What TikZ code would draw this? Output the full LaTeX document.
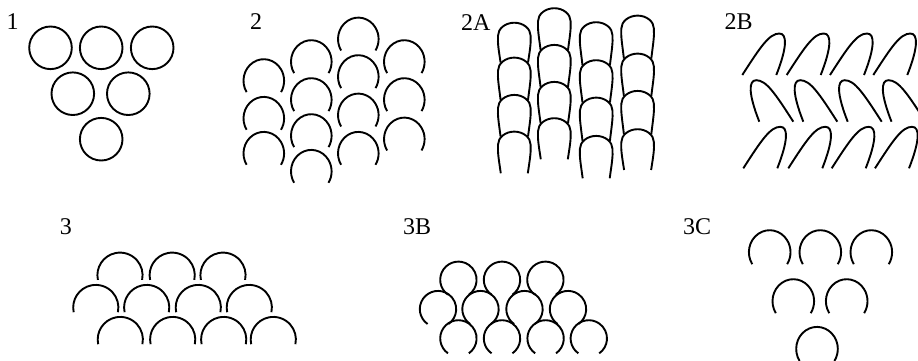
\documentclass[tikz,border=0pt]{standalone}
\usepackage{fontspec}
\setmainfont{Liberation Serif}
\newcommand{\openarc}[5]{% cx, cy, rx, ry, half-gap (deg from bottom)
  \draw[ink] ({#1+#3*cos(90+#5)},{#2+#4*sin(90+#5)}) arc[start angle={90+#5}, end angle={450-#5}, x radius=#3, y radius=#4];}
\newcommand{\hoop}[4]{% cx, top, bottom, bottom half-width
  \draw[ink] ({#1-#4},#3) .. controls ({#1-15.5},{#2+28}) and ({#1-16.8},{#2+21}) .. ({#1-16.3},{#2+13})
     .. controls ({#1-16.3},{#2+6}) and ({#1-9},#2) .. (#1,#2)
     .. controls ({#1+9},#2) and ({#1+16.3},{#2+6}) .. ({#1+16.3},{#2+13})
     .. controls ({#1+16.8},{#2+21}) and ({#1+15.5},{#2+28}) .. ({#1+#4},#3);}
\tikzset{
  ink/.style={line width=1.9pt, draw=black, line cap=butt},
  lbl/.style={anchor=base west, inner sep=0pt, font=\fontsize{24}{28}\selectfont},
  leanA/.pic={\draw[ink] (0,0) .. controls (18,-28) and (27,-41.5) .. (37,-41.5) .. controls (45,-41.5) and (45,-28) .. (34,0);}
}
\begin{document}
\begin{tikzpicture}[x=1pt,y=-1pt]
\useasboundingbox (0,0) rectangle (918,360);
\clip (0,0) rectangle (918,360);
% labels
\node[lbl] (l1) at (6.5,29) {1};
\node[lbl] (l2) at (250,29) {2};
\node[lbl] (l2A) at (461,30.5) {2A};
\node[lbl] (l2B) at (724.3,29.8) {2B};
\node[lbl] (l3) at (59.7,234.5) {3};
\node[lbl] (l3B) at (403,234.5) {3B};
\node[lbl] (l3C) at (683,234.5) {3C};
% panel 1
\foreach \x/\y in {50.5/47.8, 101.2/47.8, 152.2/47.8, 72.8/93.7, 128.3/93.7, 101.2/139.2}
  \draw[ink] (\x,\y) circle[radius=21.3];
% panel 2
\foreach \x/\y in {263.8/80.7, 263.8/118.4, 263.8/153.4,
                   311.3/61.7, 311.3/99.7, 311.3/135.7, 311.3/171.4,
                   358.3/39.1, 358.3/76.7, 358.3/115.1, 358.3/153.4,
                   404.3/61.7, 404.3/99.7, 404.3/139.1}
  {\openarc{\x}{\y}{20.3}{21.5}{58}}
% panel 2A
\hoop{514.3}{22.7}{62.6}{13.7}
\hoop{514.3}{57.6}{99.9}{13.7}
\hoop{514.3}{94.9}{136.6}{13.7}
\hoop{514.3}{131.6}{173.3}{13.5}
\hoop{554.3}{8.2}{49.9}{13.7}
\hoop{554.3}{44.9}{86.9}{13.7}
\hoop{554.3}{81.9}{123.2}{13.7}
\hoop{554.3}{118.2}{159.3}{13.5}
\hoop{596.2}{22.2}{65.2}{13.7}
\hoop{596.2}{60.2}{102.6}{13.7}
\hoop{596.2}{97.6}{140.9}{13.7}
\hoop{596.2}{135.9}{178.3}{13.5}
\hoop{637.6}{15.6}{58.6}{13.7}
\hoop{637.6}{53.6}{95.9}{13.7}
\hoop{637.6}{90.9}{134.2}{13.7}
\hoop{637.6}{129.2}{170}{13.5}
% panel 2B
\foreach \x in {742.3, 786.7, 830, 873.3} \pic at (\x,75) {leanA};
\foreach \x in {793.3, 837.3, 881.7, 925.5} \pic[xscale=-1] at (\x,121.7) {leanA};
\foreach \x in {743.3, 788.3, 831.7, 875} \pic at (\x,168.3) {leanA};
% panel 3
\foreach \x/\y in {120/275.2, 172.2/275.2, 223/275.2,
                   95.8/307.5, 146.7/307.5, 198.3/307.5, 249.3/307.5,
                   120.3/339.5, 172.7/339.5, 223.7/339.5, 273.3/339.5}
  {\openarc{\x}{\y}{22.6}{22.6}{78}}
% panel 3B
\foreach \x/\y in {458.4/279.8, 502/279.8, 545.4/279.8,
                   438/309.1, 480.5/309.1, 524.5/309.1, 568/309.1,
                   458.4/338.4, 502/338.4, 545.6/338.4, 588.8/338.4}
  {\openarc{\x}{\y}{18.2}{18.2}{35}}
% panel 3C
\foreach \x/\y in {769.7/252.2, 820.3/252.2, 871.3/252.2,
                   793.3/301.2, 846.7/301.2, 817/348.9}
  {\openarc{\x}{\y}{20.8}{22}{57}}
\end{tikzpicture}
\end{document}
